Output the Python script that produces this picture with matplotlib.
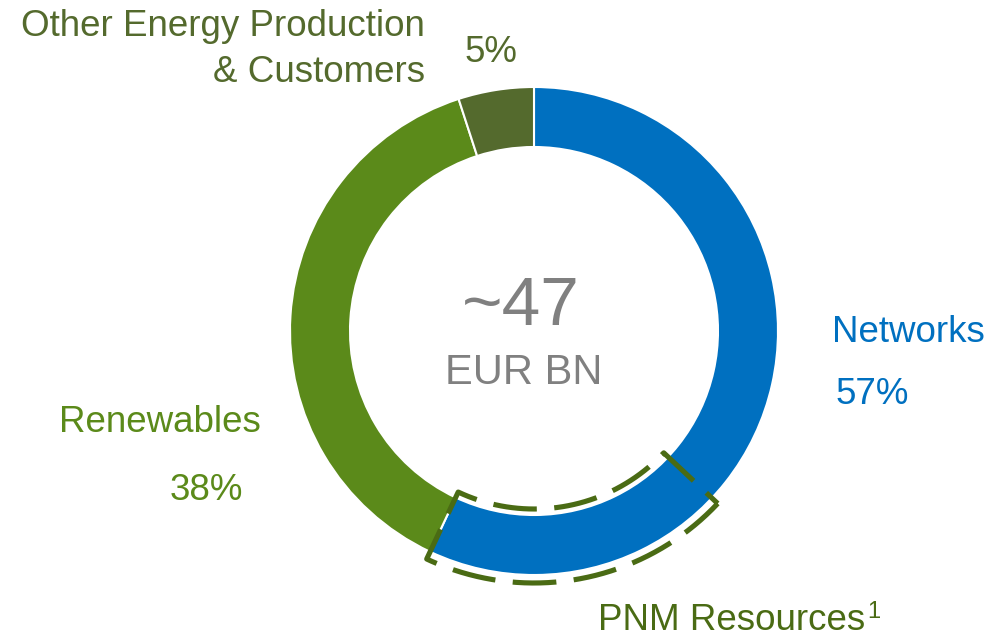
import matplotlib
matplotlib.use('Agg')
import matplotlib.pyplot as plt
import numpy as np

plt.rcParams['font.family'] = ['Liberation Sans', 'DejaVu Sans']

# segments, clockwise from 12 o'clock
labels = ['Networks', 'Renewables', 'Other Energy Production\n& Customers']
shares = [57, 38, 5]
colors = ['#0070C0', '#5B8A1A', '#546A2D']
pnm_share = 20          # part of Networks that is PNM Resources (% of total)
total_text = '~47'
unit_text = 'EUR BN'

W, H = 992, 639
fig = plt.figure(figsize=(W / 100, H / 100), dpi=100)
ax = fig.add_axes([0, 0, 1, 1])

cx, cy = 534, H - 331
r_out, ring = 244, 60

ax.pie(shares, colors=colors, startangle=90, counterclock=False,
       center=(cx, cy), radius=r_out,
       wedgeprops=dict(width=ring, edgecolor='white', linewidth=1.5))

# dashed bracket around the PNM part of Networks
end_net = 90 - shares[0] / 100 * 360
start_pnm = end_net + pnm_share / 100 * 360
t = np.radians(np.linspace(start_pnm, end_net, 120))
r1, r2 = 252, 178
xs = np.concatenate([cx + r1 * np.cos(t), cx + r2 * np.cos(t[::-1]), [cx + r1 * np.cos(t[0])]])
ys = np.concatenate([cy + r1 * np.sin(t), cy + r2 * np.sin(t[::-1]), [cy + r1 * np.sin(t[0])]])
ax.plot(xs, ys, color='#4A6B14', lw=3.7, linestyle=(0, (8.5, 3.4)),
        solid_capstyle='butt', dash_capstyle='butt')

# centre text
gray = '#808080'
ax.text(cx - 13, H - 307, total_text, ha='center', va='center', fontsize=50, color=gray)
ax.text(cx - 10, H - 373, unit_text, ha='center', va='center', fontsize=30, color=gray)

# labels
fs = 26.5
ax.text(425, H - 27, 'Other Energy Production', ha='right', va='center', fontsize=fs, color=colors[2])
ax.text(425, H - 72, '& Customers', ha='right', va='center', fontsize=fs, color=colors[2])
ax.text(491, H - 52, f'{shares[2]}%', ha='center', va='center', fontsize=fs, color=colors[2])

ax.text(832, H - 332, labels[0], ha='left', va='center', fontsize=fs, color=colors[0])
ax.text(872, H - 395, f'{shares[0]}%', ha='center', va='center', fontsize=fs, color=colors[0])

ax.text(160, H - 422, labels[1], ha='center', va='center', fontsize=fs, color=colors[1])
ax.text(206, H - 490, f'{shares[1]}%', ha='center', va='center', fontsize=fs, color=colors[1])

ax.text(598, H - 621, 'PNM Resources', ha='left', va='center', fontsize=fs, color='#4A6B14')
ax.text(867, H - 612, '1', ha='left', va='center', fontsize=17, color='#4A6B14')

ax.set_xlim(0, W)
ax.set_ylim(0, H)
ax.set_aspect('equal')
ax.axis('off')

fig.savefig('out.png', dpi=100)
